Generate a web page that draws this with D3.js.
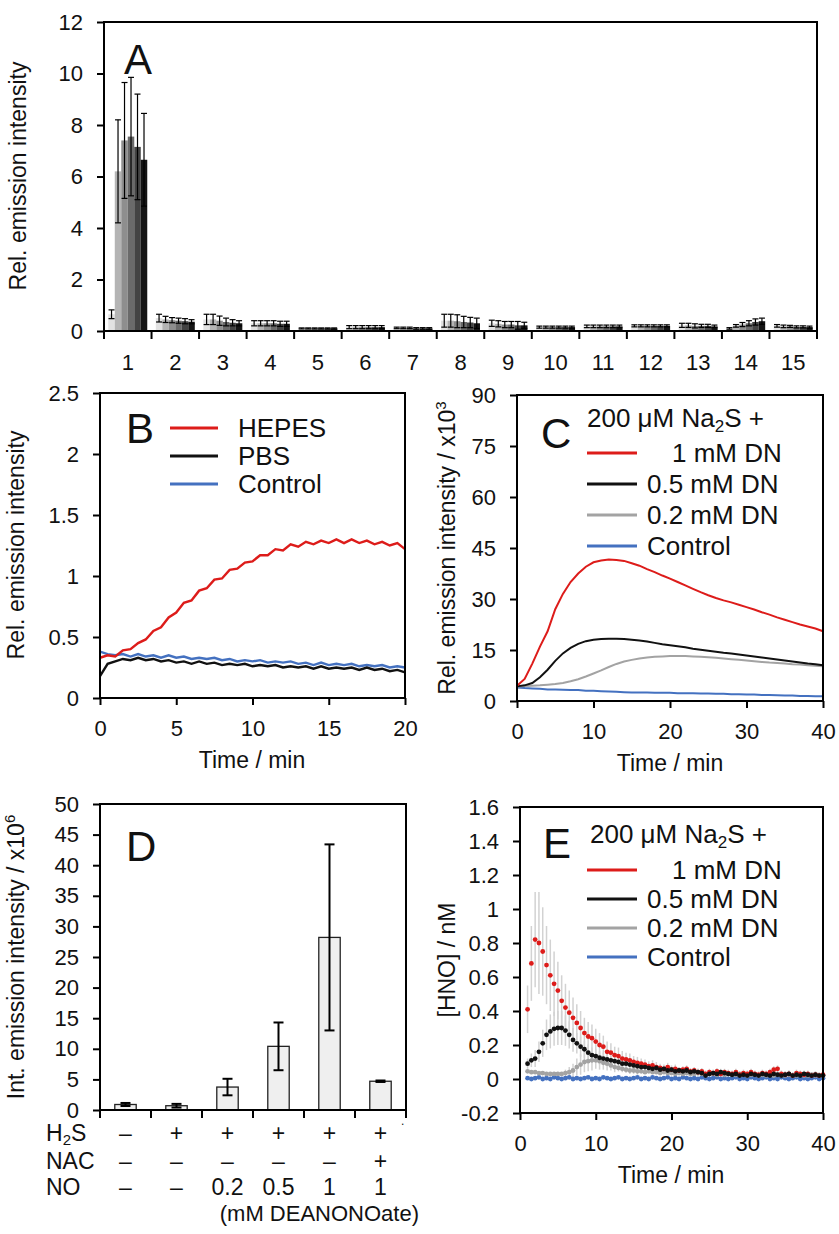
<!DOCTYPE html>
<html>
<head>
<meta charset="utf-8">
<script src="https://cdn.jsdelivr.net/npm/d3@7"></script>
<style>
body { margin: 0; background: #fff; }
svg { font-family: "Liberation Sans", Arial, sans-serif; }
.tick text { font-size: 22px; fill: #111; }
.tick line { stroke: #000; stroke-width: 2; }
</style>
</head>
<body>
<svg id="fig" width="839" height="1234"></svg>
<script>
// ---- panel A ----
var aCats = ["1","2","3","4","5","6","7","8","9","10","11","12","13","14","15"];
var aS1 = [0.65,0.50,0.45,0.30,0.10,0.15,0.12,0.40,0.30,0.15,0.18,0.20,0.22,0.10,0.20];
var aS2 = [6.20,0.45,0.45,0.30,0.10,0.15,0.12,0.40,0.28,0.15,0.18,0.20,0.22,0.20,0.18];
var aS3 = [7.40,0.42,0.40,0.30,0.10,0.15,0.12,0.38,0.25,0.15,0.18,0.20,0.20,0.25,0.18];
var aS4 = [7.55,0.40,0.35,0.30,0.10,0.15,0.10,0.35,0.25,0.15,0.18,0.20,0.20,0.30,0.16];
var aS5 = [7.15,0.38,0.32,0.28,0.10,0.15,0.10,0.33,0.22,0.15,0.18,0.20,0.20,0.35,0.16];
var aS6 = [6.65,0.36,0.30,0.28,0.10,0.15,0.10,0.30,0.22,0.15,0.18,0.20,0.18,0.38,0.15];
var aE1 = [0.17,0.15,0.20,0.10,0.02,0.06,0.03,0.25,0.12,0.04,0.05,0.04,0.08,0.03,0.05];
var aE2 = [2.00,0.12,0.20,0.10,0.02,0.06,0.03,0.25,0.12,0.04,0.05,0.04,0.08,0.05,0.05];
var aE3 = [2.25,0.10,0.18,0.10,0.02,0.06,0.03,0.25,0.12,0.04,0.05,0.04,0.08,0.08,0.04];
var aE4 = [2.30,0.10,0.15,0.10,0.02,0.06,0.03,0.22,0.12,0.04,0.05,0.04,0.06,0.10,0.04];
var aE5 = [2.05,0.10,0.12,0.10,0.02,0.06,0.03,0.20,0.15,0.04,0.05,0.04,0.06,0.12,0.04];
var aE6 = [1.80,0.08,0.10,0.10,0.02,0.06,0.03,0.20,0.12,0.04,0.05,0.04,0.05,0.12,0.04];
var aShades = ["#e2e2e2","#b4b4b4","#8e8e8e","#6a6a6a","#434343","#141414"];

// ---- panel B ----
var bTime = [0,0.5,1,1.5,2,2.5,3,3.5,4,4.5,5,5.5,6,6.5,7,7.5,8,8.5,9,9.5,10,10.5,11,11.5,12,12.5,13,13.5,14,14.5,15,15.5,16,16.5,17,17.5,18,18.5,19,19.5,20];
var bHepes = [0.33,0.35,0.34,0.39,0.40,0.45,0.48,0.55,0.58,0.66,0.70,0.78,0.80,0.88,0.90,0.97,0.98,1.05,1.06,1.11,1.12,1.17,1.17,1.22,1.21,1.26,1.24,1.28,1.26,1.29,1.27,1.30,1.27,1.30,1.27,1.29,1.26,1.28,1.25,1.27,1.22];
var bPbs = [0.18,0.28,0.30,0.32,0.31,0.33,0.31,0.32,0.30,0.31,0.29,0.30,0.28,0.30,0.28,0.29,0.27,0.28,0.27,0.28,0.26,0.27,0.26,0.27,0.25,0.26,0.25,0.26,0.24,0.26,0.24,0.25,0.24,0.25,0.23,0.25,0.23,0.24,0.22,0.23,0.21];
var bControl = [0.38,0.36,0.35,0.36,0.34,0.36,0.34,0.35,0.33,0.35,0.33,0.34,0.32,0.33,0.32,0.33,0.31,0.32,0.30,0.31,0.30,0.31,0.29,0.30,0.29,0.30,0.28,0.29,0.27,0.29,0.27,0.28,0.27,0.28,0.26,0.27,0.26,0.27,0.25,0.26,0.25];
var bNames = ["HEPES","PBS","Control"];

// ---- panel C ----
var cTime = [0,1,2,3,4,5,6,7,8,9,10,11,12,13,14,15,16,17,18,19,20,21,22,23,24,25,26,27,28,29,30,31,32,33,34,35,36,37,38,39,40];
var c1mM = [4.5,6.5,11,16,20.5,27,31.5,35,37.5,39.5,40.8,41.3,41.6,41.5,41.2,40.5,39.8,38.8,37.9,36.9,36.0,35.0,34.0,33.0,32.0,31.1,30.3,29.6,29.0,28.3,27.6,26.9,26.1,25.4,24.6,23.9,23.2,22.5,21.9,21.3,20.5];
var c05mM = [4.3,4.6,5.3,7.0,9.2,11.8,14.0,15.6,16.8,17.6,18.0,18.2,18.3,18.3,18.2,18.0,17.8,17.5,17.1,16.7,16.4,16.1,15.8,15.4,15.1,14.8,14.5,14.2,14.0,13.7,13.4,13.1,12.8,12.5,12.2,11.9,11.6,11.3,11.0,10.8,10.5];
var c02mM = [4.3,4.4,4.5,4.6,4.8,5.0,5.3,5.8,6.4,7.2,8.1,9.0,10.0,10.9,11.6,12.1,12.5,12.8,13.0,13.1,13.2,13.2,13.2,13.1,13.0,12.9,12.7,12.5,12.3,12.1,11.9,11.7,11.5,11.3,11.2,11.0,10.8,10.7,10.5,10.4,10.2];
var cControl = [4.0,3.8,3.7,3.6,3.4,3.4,3.3,3.2,3.2,3.0,3.0,2.9,2.8,2.7,2.6,2.5,2.5,2.5,2.4,2.4,2.4,2.3,2.3,2.3,2.2,2.2,2.1,2.1,2.0,2.0,1.9,1.9,1.8,1.8,1.7,1.6,1.6,1.5,1.5,1.4,1.4];
var dnNames = ["1 mM DN","0.5 mM DN","0.2 mM DN","Control"];

// ---- panel D ----
var dCats = ["c1","c2","c3","c4","c5","c6"];
var dValues = [0.9, 0.7, 3.75, 10.4, 28.2, 4.7];
var dErrors = [0.25, 0.3, 1.35, 3.9, 15.2, 0.12];
var dH2S = ["\u2013","+","+","+","+","+"];
var dNAC = ["\u2013","\u2013","\u2013","\u2013","\u2013","+"];
var dNO = ["\u2013","\u2013","0.2","0.5","1","1"];

// ---- panel E ----
var eTime = [1,1.5,2,2.5,3,3.5,4,4.5,5,5.5,6,6.5,7,7.5,8,8.5,9,9.5,10,10.5,11,11.5,12,12.5,13,13.5,14,14.5,15,15.5,16,16.5,17,17.5,18,18.5,19,19.5,20,20.5,21,21.5,22,22.5,23,23.5,24,24.5,25,25.5,26,26.5,27,27.5,28,28.5,29,29.5,30,30.5,31,31.5,32,32.5,33,33.5,34,34.5,35,35.5,36,36.5,37,37.5,38,38.5,39,39.5,40];
var e1mM = [0.41,0.68,0.82,0.80,0.75,0.67,0.61,0.56,0.52,0.46,
  0.42,0.39,0.36,0.33,0.30,0.27,0.25,0.24,0.22,0.20,
  0.19,0.16,0.155,0.14,0.135,0.12,0.115,0.11,0.10,0.095,
  0.09,0.085,0.075,0.08,0.07,0.065,0.06,0.07,0.055,0.06,
  0.05,0.055,0.06,0.045,0.05,0.04,0.045,0.03,0.04,0.035,
  0.045,0.03,0.04,0.035,0.03,0.04,0.025,0.035,0.03,0.04,
  0.03,0.025,0.035,0.03,0.04,0.055,0.06,0.03,0.025,0.03,
  0.02,0.035,0.03,0.025,0.03,0.02,0.025,0.02,0.025];
var e1mMErr = [0.14,0.22,0.28,0.30,0.26,0.23,0.21,0.19,0.17,0.15,
  0.14,0.13,0.12,0.11,0.10,0.09,0.085,0.08,0.075,0.07,
  0.065,0.06,0.055,0.05,0.05,0.045,0.04,0.04,0.035,0.035,
  0.03,0.03,0.03,0.03,0.03,0.025,0.025,0.025,0.025,0.025,
  0.02,0.02,0.02,0.02,0.02,0.02,0.02,0.02,0.02,0.02,
  0.02,0.02,0.02,0.02,0.02,0.02,0.02,0.02,0.02,0.02,
  0.02,0.02,0.02,0.02,0.02,0.02,0.02,0.02,0.02,0.02,
  0.02,0.02,0.02,0.02,0.02,0.02,0.02,0.02,0.02];
var e05mM = [0.09,0.11,0.12,0.16,0.21,0.26,0.28,0.295,0.30,0.30,
  0.285,0.26,0.23,0.21,0.19,0.175,0.155,0.14,0.135,0.125,
  0.12,0.115,0.11,0.105,0.10,0.09,0.09,0.085,0.08,0.075,
  0.07,0.07,0.065,0.06,0.065,0.055,0.06,0.05,0.055,0.045,
  0.05,0.045,0.05,0.04,0.045,0.04,0.035,0.02,0.03,0.035,
  0.03,0.04,0.035,0.03,0.025,0.03,0.02,0.025,0.02,0.03,
  0.025,0.02,0.03,0.025,0.02,0.03,0.025,0.02,0.025,0.03,
  0.02,0.025,0.02,0.03,0.025,0.02,0.025,0.02,0.02];
var e05mMErr = [0.03,0.04,0.05,0.06,0.08,0.09,0.10,0.10,0.10,0.10,
  0.09,0.08,0.07,0.06,0.06,0.05,0.05,0.045,0.04,0.04,
  0.035,0.035,0.03,0.03,0.03,0.03,0.025,0.025,0.025,0.025,
  0.02,0.02,0.02,0.02,0.02,0.02,0.02,0.02,0.02,0.02,
  0.02,0.02,0.02,0.02,0.02,0.02,0.02,0.02,0.02,0.02,
  0.02,0.02,0.02,0.02,0.02,0.02,0.02,0.02,0.02,0.02,
  0.02,0.02,0.02,0.02,0.02,0.02,0.02,0.02,0.02,0.02,
  0.02,0.02,0.02,0.02,0.02,0.02,0.02,0.02,0.02];
var e02mM = [0.045,0.04,0.04,0.035,0.035,0.03,0.03,0.03,0.03,0.03,
  0.035,0.04,0.05,0.07,0.085,0.10,0.105,0.11,0.11,0.105,
  0.095,0.09,0.08,0.07,0.065,0.06,0.055,0.05,0.05,0.045,
  0.045,0.04,0.045,0.04,0.04,0.035,0.04,0.035,0.035,0.03,
  0.035,0.03,0.035,0.03,0.03,0.035,0.03,0.025,0.03,0.03,
  0.025,0.03,0.025,0.03,0.025,0.025,0.03,0.025,0.02,0.025,
  0.025,0.02,0.025,0.02,0.025,0.02,0.025,0.02,0.02,0.025,
  0.02,0.02,0.025,0.02,0.02,0.025,0.02,0.02,0.02];
var e02mMErr = [0.01,0.01,0.01,0.01,0.01,0.01,0.01,0.01,0.01,0.01,
  0.02,0.03,0.04,0.05,0.06,0.06,0.06,0.06,0.05,0.05,
  0.04,0.04,0.03,0.03,0.02,0.02,0.02,0.02,0.02,0.02,
  0.01,0.01,0.01,0.01,0.01,0.01,0.01,0.01,0.01,0.01,
  0.01,0.01,0.01,0.01,0.01,0.01,0.01,0.01,0.01,0.01,
  0.01,0.01,0.01,0.01,0.01,0.01,0.01,0.01,0.01,0.01,
  0.01,0.01,0.01,0.01,0.01,0.01,0.01,0.01,0.01,0.01,
  0.01,0.01,0.01,0.01,0.01,0.01,0.01,0.01,0.01];
var eControl = [0.005,0.0,0.005,0.01,0.0,0.005,0.0,0.01,0.005,0.0,
  0.005,0.01,0.0,0.005,0.0,0.005,0.01,0.0,0.005,0.0,
  0.01,0.005,0.0,0.005,0.01,0.0,0.005,0.0,0.005,0.01,
  0.0,0.005,0.0,0.01,0.005,0.0,0.005,0.01,0.0,0.005,
  0.0,0.01,0.005,0.0,0.005,0.0,0.01,0.005,0.0,0.005,
  0.01,0.0,0.005,0.0,0.005,0.01,0.0,0.005,0.0,0.01,
  0.005,0.0,0.005,0.01,0.0,0.005,0.0,0.01,0.005,0.0,
  0.005,0.01,0.0,0.005,0.0,0.005,0.01,0.0,0.005];

var RED = "#dd1c1a", BLACK = "#111111", GRAY = "#a3a3a3", BLUE = "#4471c0";

var svg = d3.select("#fig");
svg.append("rect").attr("width", 839).attr("height", 1234).attr("fill", "#fff");

// plain hyphen for negatives, like the original
var fmt = function(d){ return d3.format("~g")(d).replace("\u2212", "-"); };

function box(x, y) {
	svg.append("rect")
		.attr("x", x.range()[0]).attr("y", y.range()[1])
		.attr("width", x.range()[1] - x.range()[0])
		.attr("height", y.range()[0] - y.range()[1])
		.attr("fill", "none").attr("stroke", "#000").attr("stroke-width", 2);
}
function yAxis(y, xpos, vals) {
	svg.append("g").attr("transform", "translate(" + xpos + ",0)")
		.call(d3.axisLeft(y).tickValues(vals).tickSize(7).tickPadding(14).tickFormat(fmt))
		.call(function(g){ g.select(".domain").remove(); });
}
function xAxis(x, ypos, vals) {
	svg.append("g").attr("transform", "translate(0," + ypos + ")")
		.call(d3.axisBottom(x).tickValues(vals).tickSize(7).tickPadding(15).tickFormat(fmt))
		.call(function(g){ g.select(".domain").remove(); });
}
function yTitle(x, y, build) {
	var t = svg.append("text").attr("transform", "translate(" + x + "," + y + ") rotate(-90)")
		.attr("text-anchor", "middle").attr("font-size", 23).attr("fill", "#111");
	build(t);
}
function letter(x, y, s) {
	svg.append("text").attr("x", x).attr("y", y).attr("font-size", 42).attr("fill", "#111").text(s);
}
function xTitle(x, y, s) {
	svg.append("text").attr("x", x).attr("y", y).attr("text-anchor", "middle")
		.attr("font-size", 23).attr("fill", "#111").text(s);
}
function legendRows(x0, x1, rows, names, colors, textX) {
	rows.forEach(function(ry, i){
		svg.append("line").attr("x1", x0).attr("x2", x1).attr("y1", ry).attr("y2", ry)
			.attr("stroke", colors[i]).attr("stroke-width", 3);
		svg.append("text").attr("x", textX[i]).attr("y", ry + 9).attr("font-size", 26)
			.attr("fill", "#111").text(names[i]);
	});
}
function naHeading(x, y) {
	var t = svg.append("text").attr("x", x).attr("y", y).attr("font-size", 26).attr("fill", "#111");
	t.append("tspan").text("200 \u03bcM Na");
	t.append("tspan").attr("font-size", 17).attr("dy", 5).text("2");
	t.append("tspan").attr("dy", -5).text("S +");
}

// ================= A =================
var xA = d3.scaleBand().domain(aCats).range([104, 817]).paddingInner(0.18).paddingOuter(0.09);
var yA = d3.scaleLinear().domain([0, 12]).range([331, 22]);
var xSub = d3.scaleBand().domain(d3.range(6)).range([0, xA.bandwidth()]);
var aSeries = [aS1, aS2, aS3, aS4, aS5, aS6];
var aErrs = [aE1, aE2, aE3, aE4, aE5, aE6];

aSeries.forEach(function(ser, si){
	svg.append("g").selectAll("rect").data(ser).join("rect")
		.attr("x", function(d, j){ return xA(aCats[j]) + xSub(si); })
		.attr("y", function(d){ return yA(d); })
		.attr("width", xSub.bandwidth())
		.attr("height", function(d){ return yA(0) - yA(d); })
		.attr("fill", aShades[si]);
});
aSeries.forEach(function(ser, si){
	var g = svg.append("g").attr("stroke", "#000").attr("stroke-width", 1.2);
	ser.forEach(function(v, j){
		var cx = xA(aCats[j]) + xSub(si) + xSub.bandwidth() / 2;
		var e = aErrs[si][j];
		g.append("line").attr("x1", cx).attr("x2", cx).attr("y1", yA(v - e)).attr("y2", yA(v + e));
		g.append("line").attr("x1", cx - 3).attr("x2", cx + 3).attr("y1", yA(v + e)).attr("y2", yA(v + e));
		g.append("line").attr("x1", cx - 3).attr("x2", cx + 3).attr("y1", yA(v - e)).attr("y2", yA(v - e));
	});
});
box(d3.scaleLinear().range([104, 817]), yA);
yAxis(yA, 104, [0, 2, 4, 6, 8, 10, 12]);
// category boundary ticks
var aStep = xA.step();
svg.append("g").selectAll("line").data(d3.range(aCats.length + 1)).join("line")
	.attr("x1", function(i){ return 104 + i * aStep; }).attr("x2", function(i){ return 104 + i * aStep; })
	.attr("y1", 331).attr("y2", 339).attr("stroke", "#000").attr("stroke-width", 2);
svg.append("g").selectAll("text").data(aCats).join("text")
	.attr("x", function(d){ return xA(d) + xA.bandwidth() / 2; }).attr("y", 370)
	.attr("text-anchor", "middle").attr("font-size", 22).attr("fill", "#111").text(function(d){ return d; });
yTitle(26, 176, function(t){ t.text("Rel. emission intensity"); });
letter(124, 74, "A");

// ================= B =================
var xB = d3.scaleLinear().domain([0, 20]).range([100, 405]);
var yB = d3.scaleLinear().domain([0, 2.5]).range([698, 393]);
var lineB = function(vals){
	return d3.line().x(function(d, i){ return xB(bTime[i]); }).y(function(d){ return yB(d); })(vals);
};
[[bControl, BLUE], [bPbs, BLACK], [bHepes, RED]].forEach(function(s){
	svg.append("path").attr("d", lineB(s[0])).attr("fill", "none").attr("stroke", s[1]).attr("stroke-width", 2.4);
});
box(xB, yB);
yAxis(yB, 100, [0, 0.5, 1, 1.5, 2, 2.5]);
xAxis(xB, 698, [0, 5, 10, 15, 20]);
xTitle(252, 768, "Time / min");
yTitle(24, 545, function(t){ t.text("Rel. emission intensity"); });
letter(126, 443, "B");
legendRows(170, 218, [428, 456, 484], bNames, [RED, BLACK, BLUE], [238, 238, 238]);

// ================= C =================
var xC = d3.scaleLinear().domain([0, 40]).range([517, 823]);
var yC = d3.scaleLinear().domain([0, 90]).range([701, 395]);
var lineC = function(vals){
	return d3.line().x(function(d, i){ return xC(cTime[i]); }).y(function(d){ return yC(d); })(vals);
};
[[cControl, BLUE], [c02mM, GRAY], [c05mM, BLACK], [c1mM, RED]].forEach(function(s){
	svg.append("path").attr("d", lineC(s[0])).attr("fill", "none").attr("stroke", s[1]).attr("stroke-width", 2);
});
box(xC, yC);
yAxis(yC, 517, [0, 15, 30, 45, 60, 75, 90]);
xAxis(xC, 701, [0, 10, 20, 30, 40]);
xTitle(670, 771, "Time / min");
yTitle(455, 548, function(t){
	t.append("tspan").text("Rel. emission intensity / x10");
	t.append("tspan").attr("font-size", 15).attr("dy", -9).text("3");
});
letter(541, 448, "C");
naHeading(587, 427);
legendRows(587, 637, [453, 484, 515, 546], dnNames, [RED, BLACK, GRAY, BLUE], [672, 647, 647, 647]);

// ================= D =================
var xD = d3.scaleBand().domain(dCats).range([100, 406]).paddingInner(0.58).paddingOuter(0.29);
var yD = d3.scaleLinear().domain([0, 50]).range([1110, 804]);
svg.append("g").selectAll("rect").data(dValues).join("rect")
	.attr("x", function(d, i){ return xD(dCats[i]); })
	.attr("y", function(d){ return yD(d); })
	.attr("width", xD.bandwidth())
	.attr("height", function(d){ return yD(0) - yD(d); })
	.attr("fill", "#efefef").attr("stroke", "#222").attr("stroke-width", 1.3);
var gD = svg.append("g").attr("stroke", "#000").attr("stroke-width", 2);
dValues.forEach(function(v, i){
	var cx = xD(dCats[i]) + xD.bandwidth() / 2, e = dErrors[i];
	gD.append("line").attr("x1", cx).attr("x2", cx).attr("y1", yD(v - e)).attr("y2", yD(v + e));
	gD.append("line").attr("x1", cx - 5).attr("x2", cx + 5).attr("y1", yD(v + e)).attr("y2", yD(v + e));
	gD.append("line").attr("x1", cx - 5).attr("x2", cx + 5).attr("y1", yD(v - e)).attr("y2", yD(v - e));
});
box(d3.scaleLinear().range([100, 406]), yD);
yAxis(yD, 100, [0, 5, 10, 15, 20, 25, 30, 35, 40, 45, 50]);
var dStep = xD.step();
svg.append("g").selectAll("line").data(d3.range(dCats.length + 1)).join("line")
	.attr("x1", function(i){ return 100 + i * dStep; }).attr("x2", function(i){ return 100 + i * dStep; })
	.attr("y1", 1110).attr("y2", 1118).attr("stroke", "#000").attr("stroke-width", 2);
var dRows = [[dH2S, 1141], [dNAC, 1169], [dNO, 1195]];
dRows.forEach(function(r){
	svg.append("g").selectAll("text").data(r[0]).join("text")
		.attr("x", function(d, i){ return xD(dCats[i]) + xD.bandwidth() / 2; })
		.attr("y", r[1]).attr("text-anchor", "middle").attr("font-size", 23).attr("fill", "#111")
		.text(function(d){ return d; });
});
var h2s = svg.append("text").attr("x", 46).attr("y", 1141).attr("font-size", 23).attr("fill", "#111");
h2s.append("tspan").text("H");
h2s.append("tspan").attr("font-size", 15).attr("dy", 4).text("2");
h2s.append("tspan").attr("dy", -4).text("S");
svg.append("text").attr("x", 46).attr("y", 1169).attr("font-size", 23).attr("fill", "#111").text("NAC");
svg.append("text").attr("x", 46).attr("y", 1195).attr("font-size", 23).attr("fill", "#111").text("NO");
svg.append("text").attr("x", 401).attr("y", 1125).attr("font-size", 12).attr("fill", "#111").text(".");
svg.append("text").attr("x", 419).attr("y", 1221).attr("text-anchor", "end").attr("font-size", 22)
	.attr("fill", "#111").text("(mM DEANONOate)");
yTitle(24, 957, function(t){
	t.append("tspan").text("Int. emission intensity / x10");
	t.append("tspan").attr("font-size", 15).attr("dy", -9).text("6");
});
letter(126, 861, "D");

// ================= E =================
var xE = d3.scaleLinear().domain([0, 40]).range([520, 823]);
var yE = d3.scaleLinear().domain([-0.2, 1.6]).range([1113, 807]);
var eSets = [
	[e02mM, e02mMErr, GRAY],
	[e05mM, e05mMErr, BLACK],
	[e1mM, e1mMErr, RED]
];
var gErr = svg.append("g").attr("stroke", "#d2d2d2").attr("stroke-width", 1.5);
eSets.forEach(function(s){
	s[0].forEach(function(v, i){
		gErr.append("line").attr("x1", xE(eTime[i])).attr("x2", xE(eTime[i]))
			.attr("y1", yE(v - s[1][i])).attr("y2", yE(v + s[1][i]));
	});
});
[[eControl, BLUE], [e02mM, GRAY], [e1mM, RED], [e05mM, BLACK]].forEach(function(s){
	svg.append("g").selectAll("circle").data(s[0]).join("circle")
		.attr("cx", function(d, i){ return xE(eTime[i]); })
		.attr("cy", function(d){ return yE(d); })
		.attr("r", 2.4).attr("fill", s[1]);
});
box(xE, yE);
yAxis(yE, 520, [-0.2, 0, 0.2, 0.4, 0.6, 0.8, 1, 1.2, 1.4, 1.6]);
xAxis(xE, 1113, [0, 10, 20, 30, 40]);
xTitle(671, 1183, "Time / min");
yTitle(455, 960, function(t){ t.text("[HNO] / nM"); });
letter(543, 858, "E");
naHeading(590, 843);
legendRows(587, 637, [870, 899, 928, 957], dnNames, [RED, BLACK, GRAY, BLUE], [672, 647, 647, 647]);
</script>
</body>
</html>
